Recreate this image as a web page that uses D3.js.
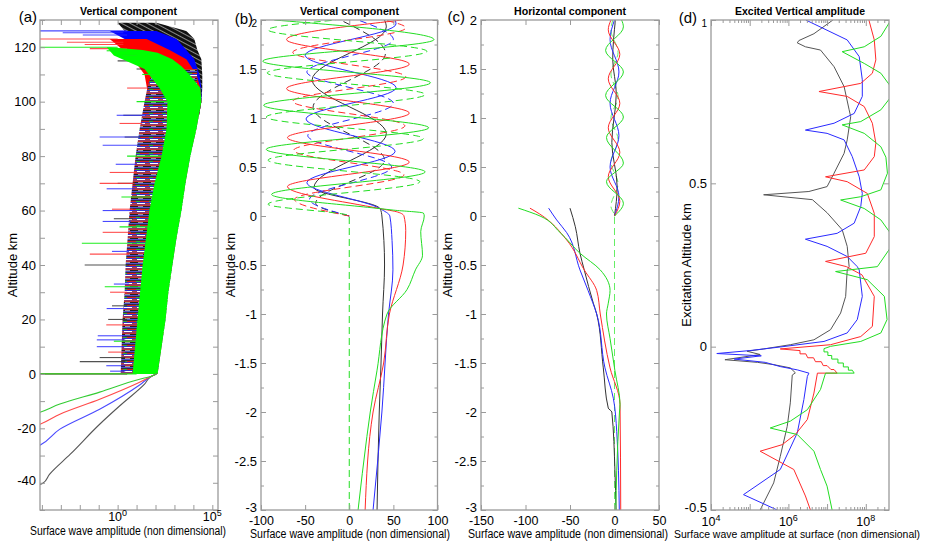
<!DOCTYPE html>
<html><head><meta charset="utf-8">
<script src="https://cdn.jsdelivr.net/npm/d3@7"></script>
<style>body{margin:0;background:#fff}</style>
</head><body><script>
// ================= DATA =================
// ---- Panel (a): log10 amplitude vs altitude (km) ----
const mixAlt = [0,10,20,30,40,50,60,70,80,90,100,106,112];
const mixLeftLog = [0.16,0.21,0.26,0.37,0.42,0.53,0.63,0.79,0.95,1.16,1.42,1.6,1.9];
const greenEnvAlt = [0,10,20,30,40,50,60,70,80,90,100,105,110,113,115.6,118,119,120];
const greenEnvLog = [2.11,2.32,2.53,2.68,2.89,3.11,3.37,3.58,3.84,4.16,4.42,4.37,3.79,3.37,2.89,2.11,1.32,-0.42];
const greenLeftAlt = [120,117,112,105,100,90,80,70,60,40,20,0];
const greenLeftLog = [-0.58,-0.2,1.42,2.21,2.63,2.58,2.32,1.95,1.68,1.32,1.05,0.79];
const redEnvAlt = [95,100,105,110,115.6,119,123];
const redEnvLog = [4.3,4.42,4.37,4.16,3.63,2.74,1.53];
const redLeftAlt = [123,120,115,110,100,95];
const redLeftLog = [-0.42,0.11,0.89,1.42,1.68,1.6];
const blueEnvAlt = [95,100,105,110,115.6,119,123,126];
const blueEnvLog = [4.3,4.42,4.42,4.32,4.05,3.63,3.11,2.05];
const blueLeftAlt = [126,123,119,115,110,100,95];
const blueLeftLog = [-0.42,0.37,1.16,1.58,1.68,1.79,1.7];
const blackEnvAlt = [95,100,105,110,115.6,119,123,126,129];
const blackEnvLog = [4.3,4.42,4.47,4.47,4.42,4.21,4.05,3.63,2.05];
const blackLeftAlt = [129,126,123,119,115,110,100,95];
const blackLeftLog = [0,0.37,0.89,1.42,1.68,1.79,1.79,1.7];
// spikes: [altitude, fromLog, toLog]
const blueSpikes = [[126,-5,0.5],[125.3,-2.9,0.3],[124.5,-1.84,0.5],[95,-0.05,1.5],[87,-0.95,1.2],[84,-0.79,1.2],[77,-0.1,1.0],[68,-0.58,0.9],[60,-0.79,0.8],[56,-0.79,0.7],[45,-0.3,0.6],[33,-0.2,0.6],[24,-0.58,0.5],[14,-1.05,0.4],[12.5,-1.1,0.4],[10,-1.1,0.4],[3,-0.6,0.4],[1,-0.4,0.4],[0,-5,0.5]];
const redSpikes = [[123,-5,0],[121.8,-2.68,0.3],[121,-1.74,0.3],[119.5,-1.47,0.5],[105,0.5,1.6],[92,0.1,1.3],[74,-0.42,1.0],[70,-0.95,0.9],[60.5,-0.3,0.8],[52,-0.79,0.7],[44,-1.47,0.6],[30,-0.4,0.5],[18,-0.6,0.4],[8,-0.5,0.4],[0,-5,0.5]];
const blackSpikes = [[115,0,1.7],[112,1.0,1.8],[95,0.3,1.3],[87,0.37,1.2],[70,0.0,0.9],[57,-0.2,0.8],[40,-1.74,0.6],[25,-0.3,0.5],[20,-0.5,0.5],[6,-0.95,0.4],[4.5,-2.0,0.4]];
const greenSpikes = [[120,-5,0],[118.7,-0.58,0.5],[117,0.26,1.0],[110,1.3,2.0],[100,1.0,2.7],[80,0.5,2.4],[65,0.2,2.0],[54,0.1,1.8],[48,-1.89,1.6],[32,-0.68,1.3],[12,-0.2,1.1],[0,-5,1.0]];
const aGreenLow = [[-15,-4.5],[-14.1,-4.1],[-11.1,-3.05],[-6.7,-0.95],[-1.95,1.16],[-0.85,1.79],[0,2.05]];
const aRedLow = [[-19.5,-4.5],[-18.5,-4.1],[-14.8,-3.05],[-9.3,-0.95],[-3.05,1.16],[-0.85,1.79],[0,2.05]];
const aBlueLow = [[-27.5,-4.5],[-26.2,-4.1],[-20.3,-3.05],[-13,-0.95],[-4.1,1.16],[-0.85,1.79],[0,2.05]];
const aBlackLow = [[-40.6,-4.1],[-40.2,-3.95],[-36.9,-3.6],[-29.5,-2.5],[-18.5,-0.95],[-11.8,0.1],[-3.8,1.42],[-0.85,1.79],[0,2.05]];

// ---- Panel (b): [altitude km, amplitude] ----
const bBlackSolid = [[-3,31.5],[-2,34],[-1.5,36],[-1,37.7],[-0.5,40],[0,37],[0.075,35],[0.29,-40],[0.84,42],[1.39,-42],[1.93,42],[2.0,40]];
const bBlackDash = [[0,0],[0.13,-38],[0.57,40],[1.11,-41],[1.66,41],[2.0,-10]];
const bBlueSolid = [[-3,27],[-2,37],[-1,44.5],[-0.55,49.5],[-0.25,48.5],[0,46],[0.075,35],[0.34,-48],[0.66,52],[0.99,-49],[1.31,53],[1.64,-50],[1.96,53],[2.0,52]];
const bBlueDash = [[0,0],[0.17,-45],[0.5,48],[0.82,-47],[1.15,50],[1.47,-48],[1.8,50],[2.0,10]];
const bRedSolid = [[-3,18],[-2,27],[-1.5,39],[-1,45.5],[-0.5,61],[-0.15,64],[0,62],[0.04,55],[0.075,35],[0.3,-70],[0.55,68],[0.8,-70],[1.05,68],[1.3,-71],[1.55,68],[1.8,-71],[2.0,60]];
const bRedDash = [[0,0],[0.17,-62],[0.42,62],[0.67,-63],[0.92,63],[1.17,-64],[1.42,64],[1.67,-64],[1.92,64],[2.0,40]];
const bGreenSolid = [[-3,10],[-2.25,20],[-2,23.8],[-1.58,31.4],[-1,42.8],[-0.75,65.5],[-0.55,75],[-0.4,83],[-0.16,81],[0,85],[0.03,84],[0.06,50],[0.075,35],[0.22,-88],[0.45,86],[0.68,-94],[0.9,90],[1.13,-97],[1.36,92],[1.58,-98],[1.8,96],[2.0,-85]];
const bGreenDash = [[-3,0],[0,0],[0.12,-92],[0.35,80],[0.57,-92],[0.79,84],[1.01,-94],[1.24,86],[1.46,-93],[1.68,88],[1.9,-92],[2.0,-15]];

// ---- Panel (c): [altitude km, amplitude] ----
const cBlackLow = [[-3,1.7],[-2.6,0.5],[-2,-3],[-1.96,-7],[-1.55,-12.6],[-1,-20],[-0.89,-23.8],[-0.55,-34],[-0.38,-38.8],[-0.11,-44],[0.08,-50]];
const cBlueLow = [[-3,5.4],[-2.2,2.5],[-1.86,-1.3],[-1.55,-10.7],[-1,-20],[-0.76,-29.7],[-0.55,-38.8],[-0.17,-53.7],[-0.04,-65],[0.08,-74]];
const cRedLow = [[-3,7],[-1.92,6.2],[-1.55,-5],[-1,-16],[-0.76,-20],[-0.55,-34],[-0.245,-53.7],[0.02,-84],[0.08,-95]];
const cGreenLow = [[-3,1.5],[-2.6,2.5],[-2,5.6],[-1.92,6.2],[-1.58,0.5],[-1.25,-5],[-1,-9],[-0.89,-7],[-0.76,-5],[-0.55,-16],[-0.38,-38.8],[-0.17,-61],[0,-83.7],[0.08,-108]];
const cBlackHigh = [[0,0],[0.3,3],[0.75,-3],[1.25,2],[1.6,-2],[2.0,1]];
const cBlueHigh = [[0,0],[0.2,5],[0.5,-5],[0.82,5],[1.15,-5],[1.47,5],[1.8,-5],[2.0,0]];
const cRedHigh = [[0,0],[0.15,6],[0.4,-7],[0.65,6],[0.9,-7],[1.15,6],[1.4,-7],[1.65,6],[1.9,-7],[2.0,-4]];
const cGreenHigh = [[0,0],[0.13,10],[0.35,-9],[0.54,10],[0.8,-9],[1.01,10],[1.23,-10],[1.47,10],[1.69,-10],[1.93,10],[2.0,8]];
const cGreenDash = [[-3,0],[0,0],[0.1,-4],[0.33,4],[0.55,-4],[0.78,4],[1.0,-4],[1.22,4],[1.45,-4],[1.67,4],[1.9,-4],[2.0,-2]];

// ---- Panel (d): [excitation altitude km, log10 amplitude] ----
const dBlack = [[1.0,7.15],[0.958,6.66],[0.937,6.27],[0.93,6.23],[0.918,6.44],[0.908,6.83],[0.857,7.18],[0.796,7.44],[0.725,7.57],[0.704,7.61],[0.633,7.52],[0.592,7.44],[0.531,7.18],[0.49,7.0],[0.475,6.53],[0.465,5.36],[0.45,6.62],[0.41,7.0],[0.358,7.39],[0.307,7.52],[0.245,7.57],[0.235,7.52],[0.154,7.48],[0.103,7.35],[0.052,7.09],[0.021,6.66],[0.006,6.05],[-0.007,5.36],[-0.014,4.93],[-0.024,5.27],[-0.04,4.36],[-0.048,5.2],[-0.055,5.62],[-0.065,6.05],[-0.08,6.18],[-0.087,6.1],[-0.172,6.05],[-0.244,5.97],[-0.336,5.79],[-0.417,5.62],[-0.5,5.27]];
const dBlue = [[1.0,6.45],[0.939,7.52],[0.888,7.83],[0.817,7.91],[0.766,7.91],[0.714,7.7],[0.684,7.18],[0.663,6.44],[0.653,7.0],[0.633,7.44],[0.582,7.65],[0.52,7.83],[0.469,7.91],[0.429,7.87],[0.378,7.7],[0.347,7.26],[0.329,6.44],[0.307,7.0],[0.276,7.52],[0.245,7.78],[0.235,7.83],[0.154,7.91],[0.083,7.78],[0.042,7.52],[0.016,6.92],[-0.001,5.79],[-0.012,5.0],[-0.021,4.15],[-0.028,5.3],[-0.038,4.6],[-0.048,5.4],[-0.061,5.79],[-0.071,6.23],[-0.081,6.53],[-0.091,6.49],[-0.162,6.4],[-0.264,6.23],[-0.376,5.79],[-0.453,4.84],[-0.5,5.71]];
const dRed = [[1.0,8.08],[0.939,8.22],[0.878,8.26],[0.837,8.17],[0.806,7.87],[0.781,6.79],[0.766,7.52],[0.735,7.96],[0.684,8.17],[0.623,8.26],[0.582,8.22],[0.541,7.96],[0.52,6.96],[0.505,7.52],[0.469,8.04],[0.408,8.22],[0.337,8.22],[0.286,8.0],[0.261,6.96],[0.245,7.5],[0.22,7.9],[0.154,8.22],[0.062,8.17],[0.031,7.87],[0.006,7.09],[-0.007,5.79],[-0.012,6.3],[-0.022,6.3],[-0.022,6.45],[-0.034,6.5],[-0.034,6.65],[-0.046,6.7],[-0.046,6.85],[-0.058,6.9],[-0.058,7.0],[-0.07,7.1],[-0.07,7.18],[-0.081,7.26],[-0.081,6.75],[-0.142,6.66],[-0.223,6.49],[-0.269,6.18],[-0.3,5.84],[-0.32,5.27],[-0.376,6.14],[-0.457,6.44],[-0.5,6.57]];
const dGreen = [[1.0,8.65],[0.95,8.39],[0.918,7.96],[0.903,7.39],[0.867,7.96],[0.837,8.39],[0.8,8.62],[0.76,8.62],[0.725,8.39],[0.689,7.87],[0.679,7.39],[0.653,7.96],[0.612,8.39],[0.58,8.52],[0.531,8.56],[0.48,8.39],[0.459,7.87],[0.449,7.35],[0.423,7.96],[0.388,8.39],[0.35,8.62],[0.3,8.62],[0.245,8.3],[0.23,7.22],[0.205,8.04],[0.154,8.48],[0.083,8.55],[0.042,8.39],[0.016,7.87],[0.001,7.09],[-0.006,6.92],[-0.016,6.92],[-0.016,7.02],[-0.027,7.02],[-0.027,7.12],[-0.038,7.12],[-0.038,7.28],[-0.05,7.28],[-0.05,7.42],[-0.062,7.42],[-0.062,7.55],[-0.072,7.55],[-0.072,7.65],[-0.081,7.7],[-0.081,6.96],[-0.131,6.83],[-0.193,6.49],[-0.228,6.05],[-0.249,5.53],[-0.269,6.23],[-0.32,6.66],[-0.376,6.83],[-0.427,7.0],[-0.5,7.13]];

// ---- ticks / labels ----
const aYLabels = [-40,-20,0,20,40,60,80,100,120];
const aYTicks = d3.range(-50,131,10);
const aXDecades = [-4,-3,-2,-1,0,1,2,3,4,5];
const aXLabelExp = [0,5];
const bcYLabels = [-3,-2.5,-2,-1.5,-1,-0.5,0,0.5,1,1.5,2];
const bcYMinor = [-2.75,-2.25,-1.75,-1.25,-0.75,-0.25,0.25,0.75,1.25,1.75];
const bXTicks = [-100,-50,0,50,100];
const cXTicks = [-150,-100,-50,0,50];
const dYLabels = [-0.5,0,0.5,1];
const dXLabelExp = [4,6,8];
const titles = ["Vertical component","Vertical component","Horizontal component","Excited Vertical amplitude"];
const panelTags = ["(a)","(b)","(c)","(d)"];
const xTitles = ["Surface wave amplitude (non dimensional)","Surface wave amplitude (non dimensional)","Surface wave amplitude (non dimensional)","Surface wave amplitude at surface (non dimensional)"];
const yTitles = ["Altitude km","Altitude km","Altitude km","Excitation Altitude km"];

// ================= DRAWING =================
const FONT = '"Liberation Sans", Arial, Helvetica, sans-serif';
const TOP = 20, BOT = 510;
const COL = {black:'#333', blue:'#2a2aff', red:'#ff2a2a', green:'#22dd22'};
const svg = d3.select('body').append('svg').attr('width',930).attr('height',545)
  .attr('font-family',FONT);
const defs = svg.append('defs');

const P = [{x0:40,x1:218},{x0:261,x1:437.5},{x0:481,x1:659},{x0:711,x1:889}];
P.forEach((p,i)=>{
  defs.append('clipPath').attr('id','clip'+i).append('rect')
    .attr('x',p.x0).attr('y',TOP).attr('width',p.x1-p.x0).attr('height',BOT-TOP);
});
// patterns
const mix = defs.append('pattern').attr('id','mix').attr('patternUnits','userSpaceOnUse').attr('width',13).attr('height',8);
['#3a2a3a','#d82020','#3030c8','#ffffff','#8a3a70','#c83030','#222222','#5050d0'].forEach((c,i)=>
  mix.append('rect').attr('x',0).attr('y',i).attr('width',13).attr('height',1).attr('fill',c));
mix.append('rect').attr('x',2).attr('y',3).attr('width',5).attr('height',1).attr('fill','#b04040');
mix.append('rect').attr('x',6).attr('y',1).attr('width',4).attr('height',1).attr('fill','#30b030');
mix.append('rect').attr('x',8).attr('y',6).attr('width',5).attr('height',1).attr('fill','#9a9a9a');
const blk = defs.append('pattern').attr('id','blk').attr('patternUnits','userSpaceOnUse')
  .attr('width',6).attr('height',4).attr('patternTransform','rotate(28)');
blk.append('rect').attr('width',6).attr('height',4).attr('fill','#111');
blk.append('rect').attr('y',3).attr('width',6).attr('height',1).attr('fill','#8a8a8a');

function styleAxis(g, fs){
  g.select('.domain').remove();
  g.selectAll('line').attr('stroke','#9a9a9a').attr('stroke-width',1);
  g.selectAll('text').attr('fill','#000').attr('font-size',fs).attr('font-family',FONT);
  g.attr('font-family',FONT);
}
function frame(i){
  const p=P[i];
  svg.append('rect').attr('x',p.x0).attr('y',TOP).attr('width',p.x1-p.x0).attr('height',BOT-TOP)
    .attr('fill','none').attr('stroke','#9a9a9a').attr('stroke-width',1.3);
}
function yAxes(i, y, labels, minor, lenMinor, topSmall){
  const p=P[i];
  svg.append('g').attr('transform',`translate(${p.x0},0)`)
    .call(d3.axisLeft(y).tickValues(labels).tickSize(-5).tickPadding(4).tickFormat(d=>String(d)))
    .call(g=>styleAxis(g,13))
    .call(g=>{ if(topSmall) g.selectAll('text').filter(d=>d===labels[labels.length-1]).attr('font-size',10).attr('dy','0.6em'); })
    .call(g=>{ g.selectAll('text').filter(d=>d===labels[0]).attr('dy','0.1em'); });
  svg.append('g').attr('transform',`translate(${p.x1},0)`)
    .call(d3.axisRight(y).tickValues(labels).tickSize(-5).tickFormat(''))
    .call(g=>styleAxis(g,13));
  if(minor){
    [[d3.axisLeft,p.x0],[d3.axisRight,p.x1]].forEach(([ax,xx])=>
      svg.append('g').attr('transform',`translate(${xx},0)`)
        .call(ax(y).tickValues(minor).tickSize(-lenMinor).tickFormat(''))
        .call(g=>styleAxis(g,13)));
  }
}
function xAxesLinear(i, x, vals){
  svg.append('g').attr('transform',`translate(0,${BOT})`)
    .call(d3.axisBottom(x).tickValues(vals).tickSize(-5).tickPadding(6).tickFormat(d=>String(d)))
    .call(g=>styleAxis(g,12.5));
  svg.append('g').attr('transform',`translate(0,${TOP})`)
    .call(d3.axisTop(x).tickValues(vals).tickSize(-5).tickFormat(''))
    .call(g=>styleAxis(g,12.5));
}
function xAxesLog(x, vals, len){
  [[d3.axisBottom,BOT],[d3.axisTop,TOP]].forEach(([ax,yy])=>
    svg.append('g').attr('transform',`translate(0,${yy})`)
      .call(ax(x).tickValues(vals).tickSize(-len).tickFormat(''))
      .call(g=>styleAxis(g,12)));
}
function powLabel(x, exps, yBase){
  exps.forEach(e=>{
    const t = svg.append('text').attr('x',x(10**e)).attr('y',yBase).attr('text-anchor','middle')
      .attr('font-size',12.5).attr('fill','#000');
    t.append('tspan').text('10');
    t.append('tspan').attr('dy',-5).attr('font-size',9).text(String(e));
  });
}
function texts(i, cfg){
  svg.append('text').attr('x',cfg.tx).attr('y',15).attr('text-anchor','middle')
    .attr('font-weight','bold').attr('font-size',11).attr('textLength',cfg.tw)
    .attr('lengthAdjust','spacingAndGlyphs').text(titles[i]);
  svg.append('text').attr('x',cfg.lx).attr('y',cfg.ly).attr('text-anchor','end')
    .attr('font-size',15).text(panelTags[i]);
  svg.append('text').attr('x',cfg.xs).attr('y',cfg.xy).attr('font-size',cfg.xf||12)
    .attr('textLength',cfg.xw).attr('lengthAdjust','spacingAndGlyphs').text(xTitles[i]);
  svg.append('text').attr('transform',`translate(${cfg.yx},265) rotate(-90)`).attr('text-anchor','middle')
    .attr('font-size',13).text(yTitles[i]);
}

// ---------- Panel (a) ----------
const aX = d3.scaleLog().domain([10**-4.1, 10**5.3]).range([P[0].x0,P[0].x1]);
const aY = d3.scaleLinear().domain([-50,130]).range([BOT,TOP]);
const gA = svg.append('g').attr('clip-path','url(#clip0)');
const poly = d3.line();
function bandPts(envAlt, envLog, leftAlt, leftLog){
  return envAlt.map((a,k)=>[aX(10**envLog[k]),aY(a)])
    .concat(leftAlt.map((a,k)=>[aX(10**leftLog[k]),aY(a)]));
}
gA.append('path').attr('d',poly(bandPts(blackEnvAlt,blackEnvLog,blackLeftAlt,blackLeftLog))+'Z').attr('fill','url(#blk)');
gA.append('path').attr('d',poly(bandPts(blueEnvAlt,blueEnvLog,blueLeftAlt,blueLeftLog))+'Z').attr('fill','#0000ff');
gA.append('path').attr('d',poly(bandPts(redEnvAlt,redEnvLog,redLeftAlt,redLeftLog))+'Z').attr('fill','#ff0000');
const envInterp = d3.scaleLinear().domain(greenEnvAlt.slice(0,11)).range(greenEnvLog.slice(0,11));
const mixPts = mixAlt.map((a,k)=>[aX(10**mixLeftLog[k]),aY(a)])
  .concat(mixAlt.slice().reverse().map(a=>[aX(10**(a<=100?envInterp(a):4.2)),aY(a)]));
gA.append('path').attr('d',poly(mixPts)+'Z').attr('fill','url(#mix)');
function spikes(data, col, op){
  gA.append('g').selectAll('line').data(data).join('line')
    .attr('x1',d=>aX(10**d[1])).attr('x2',d=>aX(10**d[2]))
    .attr('y1',d=>aY(d[0])).attr('y2',d=>aY(d[0]))
    .attr('stroke',col).attr('stroke-width',1.1).attr('opacity',op);
}
spikes(blackSpikes,'#333',0.85);
spikes(blueSpikes,'#2a2aff',0.85);
spikes(redSpikes,'#ff3030',0.85);
gA.append('path').attr('d',poly(bandPts(greenEnvAlt,greenEnvLog,greenLeftAlt,greenLeftLog))+'Z').attr('fill','#00ff00');
spikes(greenSpikes,'#11ee11',0.95);
const aLine = d3.line().x(d=>aX(10**d[1])).y(d=>aY(d[0])).curve(d3.curveMonotoneY);
[[aBlackLow,'#555'],[aBlueLow,'#4a4aff'],[aRedLow,'#ff4a4a'],[aGreenLow,'#33cc33']].forEach(([d,c])=>
  gA.append('path').attr('d',aLine(d)).attr('fill','none').attr('stroke',c).attr('stroke-width',1.1));
frame(0);
yAxes(0,aY,aYLabels,aYTicks.filter(v=>!aYLabels.includes(v)),5,false);
xAxesLog(aX, aXDecades.map(e=>10**e), 5);
powLabel(aX, aXLabelExp, 521);
texts(0,{tx:128.5,tw:97,lx:37,ly:22,xs:30,xy:535,xw:196,yx:17});

// ---------- Panel (b) ----------
const bX = d3.scaleLinear().domain([-100,100]).range([P[1].x0,P[1].x1]);
const bcY = d3.scaleLinear().domain([-3,2]).range([BOT,TOP]);
const gB = svg.append('g').attr('clip-path','url(#clip1)');
const bLine = d3.line().x(d=>bX(d[1])).y(d=>bcY(d[0])).curve(d3.curveMonotoneY);
[[bBlackSolid,bBlackDash,COL.black],[bBlueSolid,bBlueDash,COL.blue],[bRedSolid,bRedDash,COL.red],[bGreenSolid,bGreenDash,COL.green]]
  .forEach(([s,dd,c])=>{
    gB.append('path').attr('d',bLine(s)).attr('fill','none').attr('stroke',c).attr('stroke-width',1);
    gB.append('path').attr('d',bLine(dd)).attr('fill','none').attr('stroke',c).attr('stroke-width',1).attr('stroke-dasharray','7,4');
  });
frame(1);
yAxes(1,bcY,bcYLabels,bcYMinor,3,true);
xAxesLinear(1,bX,bXTicks);
texts(1,{tx:349.5,tw:99,lx:253,ly:24,xs:250,xy:538,xw:200,yx:235});

// ---------- Panel (c) ----------
const cX = d3.scaleLinear().domain([-150,50]).range([P[2].x0,P[2].x1]);
const gC = svg.append('g').attr('clip-path','url(#clip2)');
const cLine = d3.line().x(d=>cX(d[1])).y(d=>bcY(d[0])).curve(d3.curveMonotoneY);
gC.append('path').attr('d',cLine(cGreenDash)).attr('fill','none').attr('stroke','#66ee66').attr('stroke-width',1).attr('stroke-dasharray','7,4');
[[cBlackLow,cBlackHigh,COL.black],[cBlueLow,cBlueHigh,COL.blue],[cRedLow,cRedHigh,COL.red],[cGreenLow,cGreenHigh,COL.green]]
  .forEach(([lo,hi,c])=>{
    gC.append('path').attr('d',cLine(lo)).attr('fill','none').attr('stroke',c).attr('stroke-width',1);
    gC.append('path').attr('d',cLine(hi)).attr('fill','none').attr('stroke',c).attr('stroke-width',1);
  });
frame(2);
yAxes(2,bcY,bcYLabels,bcYMinor,3,false);
xAxesLinear(2,cX,cXTicks);
texts(2,{tx:570,tw:112,lx:465,ly:22,xs:468,xy:538,xw:200,yx:452});

// ---------- Panel (d) ----------
const dX = d3.scaleLog().domain([1e4, 10**8.6]).range([P[3].x0,P[3].x1]);
const dY = d3.scaleLinear().domain([-0.5,1]).range([BOT,TOP]);
const gD = svg.append('g').attr('clip-path','url(#clip3)');
const dLine = d3.line().x(d=>dX(10**d[1])).y(d=>dY(d[0]));
[[dBlack,'#555'],[dBlue,COL.blue],[dRed,COL.red],[dGreen,COL.green]].forEach(([d,c])=>
  gD.append('path').attr('d',dLine(d)).attr('fill','none').attr('stroke',c).attr('stroke-width',1));
frame(3);
yAxes(3,dY,dYLabels,null,0,true);
const dMajor = [4,5,6,7,8].map(e=>10**e);
const dMinor = [];
[4,5,6,7,8].forEach(e=>{ for(let m=2;m<=9;m++){ const v=m*10**e; if(v<=10**8.6) dMinor.push(v);} });
xAxesLog(dX,dMajor,6);
xAxesLog(dX,dMinor,3);
powLabel(dX, dXLabelExp, 526);
texts(3,{tx:800,tw:130,lx:697,ly:23,xs:674,xy:538,xw:246,xf:10,yx:691});
</script></body></html>
